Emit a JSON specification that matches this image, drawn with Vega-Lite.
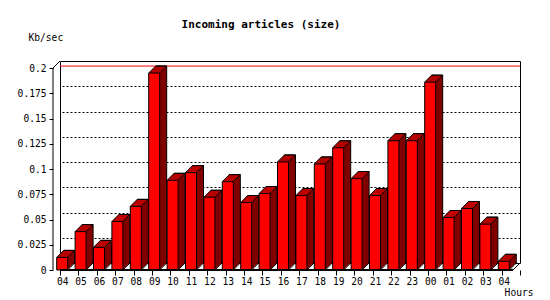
{
  "$schema": "https://vega.github.io/schema/vega-lite/v6.json",
  "width": 460,
  "height": 202,
  "autosize": {"type": "none"},
  "padding": {"left": 60, "top": 61, "right": 30, "bottom": 37},
  "background": "white",
  "title": {"text": "Incoming articles (size)", "font": "DejaVu Sans Mono", "fontSize": 11, "fontWeight": "bold", "color": "black", "anchor": "middle", "frame": "group", "dx": -29, "offset": 2},
  "config": {
    "view": {"stroke": "black", "strokeWidth": 1},
    "axis": {"labelFont": "DejaVu Sans Mono", "labelFontSize": 9.6, "labelColor": "black", "titleFont": "DejaVu Sans Mono", "titleFontSize": 9.6, "titleFontWeight": "normal", "titleColor": "black", "tickColor": "black"}
  },
  "data": {"values": [
    {"slot": "04a", "v": 0.0125},
    {"slot": "05", "v": 0.038},
    {"slot": "06", "v": 0.0224},
    {"slot": "07", "v": 0.048},
    {"slot": "08", "v": 0.063},
    {"slot": "09", "v": 0.195},
    {"slot": "10", "v": 0.0888},
    {"slot": "11", "v": 0.0964},
    {"slot": "12", "v": 0.072},
    {"slot": "13", "v": 0.0875},
    {"slot": "14", "v": 0.0668},
    {"slot": "15", "v": 0.0757},
    {"slot": "16", "v": 0.107},
    {"slot": "17", "v": 0.0737},
    {"slot": "18", "v": 0.105},
    {"slot": "19", "v": 0.121},
    {"slot": "20", "v": 0.0905},
    {"slot": "21", "v": 0.0737},
    {"slot": "22", "v": 0.128},
    {"slot": "23", "v": 0.128},
    {"slot": "00", "v": 0.186},
    {"slot": "01", "v": 0.052},
    {"slot": "02", "v": 0.0609},
    {"slot": "03", "v": 0.0454},
    {"slot": "04b", "v": 0.0086}
  ]},
  "resolve": {"axis": {"y": "independent"}},
  "layer": [
    {
      "mark": {"type": "rule", "color": "#ff0000", "strokeWidth": 1},
      "encoding": {
        "y": {"aggregate": "max", "field": "v", "type": "quantitative", "axis": null}
      }
    },
    {
      "mark": {"type": "bar", "color": "#909090", "width": 7, "xOffset": 2},
      "encoding": {
        "x": {"field": "slot", "type": "ordinal",
          "scale": {"domain": ["04a","05","06","07","08","09","10","11","12","13","14","15","16","17","18","19","20","21","22","23","00","01","02","03","04b"], "paddingInner": 0, "paddingOuter": 0},
          "axis": {"orient": "bottom", "offset": 7, "tickOffset": -7, "labelOffset": -7, "tickBand": "extent", "tickSize": 5, "domain": false, "grid": false, "labelExpr": "slice(datum.label, 0, 2)", "labelAngle": 0, "labelPadding": 1, "title": "Hours", "titleX": 473, "titleY": 25, "titleAlign": "right", "titleBaseline": "alphabetic"}},
        "y": {"datum": 0, "type": "quantitative", "scale": {"domain": [0, 0.2], "nice": false, "zero": true}, "axis": null},
        "y2": {"datum": 0}
      }
    },
    {
      "mark": {"type": "bar", "color": "#800000", "width": 11, "stroke": "black", "strokeWidth": 1, "xOffset": 0, "yOffset": 0, "y2Offset": 0},
      "encoding": {
        "x": {"field": "slot", "type": "ordinal"},
        "y": {"field": "v", "type": "quantitative", "axis": {"orient": "right", "values": [0.025, 0.05, 0.075, 0.1, 0.125, 0.15, 0.175], "grid": true, "gridDash": [2, 2], "gridColor": "black", "gridOpacity": 1, "domain": false, "ticks": false, "labels": false, "title": null}}
      }
    },
    {"mark": {"type": "bar", "color": "#800000", "width": 11, "xOffset": -1, "yOffset": 1, "y2Offset": 1}, "encoding": {"x": {"field": "slot", "type": "ordinal"}, "y": {"field": "v", "type": "quantitative", "axis": null}}},
    {"mark": {"type": "bar", "color": "#800000", "width": 11, "xOffset": -2, "yOffset": 2, "y2Offset": 2}, "encoding": {"x": {"field": "slot", "type": "ordinal"}, "y": {"field": "v", "type": "quantitative", "axis": null}}},
    {"mark": {"type": "bar", "color": "#800000", "width": 11, "xOffset": -3, "yOffset": 3, "y2Offset": 3}, "encoding": {"x": {"field": "slot", "type": "ordinal"}, "y": {"field": "v", "type": "quantitative", "axis": null}}},
    {"mark": {"type": "bar", "color": "#800000", "width": 11, "xOffset": -4, "yOffset": 4, "y2Offset": 4}, "encoding": {"x": {"field": "slot", "type": "ordinal"}, "y": {"field": "v", "type": "quantitative", "axis": null}}},
    {"mark": {"type": "bar", "color": "#800000", "width": 11, "xOffset": -5, "yOffset": 5, "y2Offset": 5}, "encoding": {"x": {"field": "slot", "type": "ordinal"}, "y": {"field": "v", "type": "quantitative", "axis": null}}},
    {"mark": {"type": "bar", "color": "#800000", "width": 11, "xOffset": -6, "yOffset": 6, "y2Offset": 6}, "encoding": {"x": {"field": "slot", "type": "ordinal"}, "y": {"field": "v", "type": "quantitative", "axis": null}}},
    {"mark": {"type": "tick", "color": "#c00000", "size": 11, "thickness": 1, "opacity": 1, "xOffset": -6, "yOffset": 6}, "encoding": {"x": {"field": "slot", "type": "ordinal"}, "y": {"field": "v", "type": "quantitative", "axis": null}}},
    {"mark": {"type": "tick", "color": "#c00000", "size": 11, "thickness": 1, "opacity": 1, "xOffset": -5, "yOffset": 5}, "encoding": {"x": {"field": "slot", "type": "ordinal"}, "y": {"field": "v", "type": "quantitative", "axis": null}}},
    {"mark": {"type": "tick", "color": "#c00000", "size": 11, "thickness": 1, "opacity": 1, "xOffset": -4, "yOffset": 4}, "encoding": {"x": {"field": "slot", "type": "ordinal"}, "y": {"field": "v", "type": "quantitative", "axis": null}}},
    {"mark": {"type": "tick", "color": "#c00000", "size": 11, "thickness": 1, "opacity": 1, "xOffset": -3, "yOffset": 3}, "encoding": {"x": {"field": "slot", "type": "ordinal"}, "y": {"field": "v", "type": "quantitative", "axis": null}}},
    {"mark": {"type": "tick", "color": "#c00000", "size": 11, "thickness": 1, "opacity": 1, "xOffset": -2, "yOffset": 2}, "encoding": {"x": {"field": "slot", "type": "ordinal"}, "y": {"field": "v", "type": "quantitative", "axis": null}}},
    {"mark": {"type": "tick", "color": "#c00000", "size": 11, "thickness": 1, "opacity": 1, "xOffset": -1, "yOffset": 1}, "encoding": {"x": {"field": "slot", "type": "ordinal"}, "y": {"field": "v", "type": "quantitative", "axis": null}}},
    {"mark": {"type": "tick", "color": "black", "size": 11, "thickness": 1, "opacity": 1, "xOffset": 0, "yOffset": 0}, "encoding": {"x": {"field": "slot", "type": "ordinal"}, "y": {"field": "v", "type": "quantitative", "axis": null}}},
    {"mark": {"type": "rule", "color": "black", "strokeWidth": 1, "xOffset": -12.5, "x2Offset": -5.5, "yOffset": 7, "y2Offset": 0},
     "encoding": {"x": {"field": "slot", "type": "ordinal"}, "x2": {"field": "slot"}, "y": {"field": "v", "type": "quantitative", "axis": null}, "y2": {"field": "v"}}},
    {"mark": {"type": "rule", "color": "black", "strokeWidth": 1, "xOffset": -1.5, "x2Offset": 5.5, "yOffset": 7, "y2Offset": 0},
     "encoding": {"x": {"field": "slot", "type": "ordinal"}, "x2": {"field": "slot"}, "y": {"field": "v", "type": "quantitative", "axis": null}, "y2": {"field": "v"}}},
    {"mark": {"type": "rule", "color": "black", "strokeWidth": 1, "xOffset": -1.5, "x2Offset": 5.5, "yOffset": 7, "y2Offset": 0},
     "encoding": {"x": {"field": "slot", "type": "ordinal"}, "x2": {"field": "slot"}, "y": {"datum": 0, "type": "quantitative", "axis": null}, "y2": {"datum": 0}}},
    {
      "mark": {"type": "bar", "color": "#ff0000", "width": 11, "stroke": "black", "strokeWidth": 1, "xOffset": -7, "yOffset": 7, "y2Offset": 7},
      "encoding": {
        "x": {"field": "slot", "type": "ordinal"},
        "y": {"field": "v", "type": "quantitative", "axis": {"orient": "left", "offset": 7, "tickOffset": 7, "values": [0, 0.025, 0.05, 0.075, 0.1, 0.125, 0.15, 0.175, 0.2], "labelExpr": "'' + datum.value", "domain": false, "grid": false, "tickSize": 4, "labelPadding": 3, "title": "Kb/sec", "titleAngle": 0, "titleAlign": "left", "titleBaseline": "alphabetic", "titleX": -25, "titleY": -21}}
      }
    },
    {
      "mark": {"type": "rule", "color": "black", "strokeWidth": 1, "xOffset": -7, "x2Offset": -7, "yOffset": 7},
      "encoding": {"y": {"datum": 0, "type": "quantitative", "axis": null}}
    },
    {
      "transform": [{"filter": "datum.slot == '04a'"}],
      "mark": {"type": "rule", "color": "black", "strokeWidth": 1, "xOffset": -16.2, "x2Offset": -16.2, "yOffset": 7, "y2Offset": 7},
      "encoding": {"x": {"field": "slot", "type": "ordinal"}, "y": {"datum": 0, "type": "quantitative", "axis": null}, "y2": {"datum": 0.2}}
    },
    {
      "transform": [{"filter": "datum.slot == '04a'"}],
      "mark": {"type": "rule", "color": "black", "strokeWidth": 1, "xOffset": -16.2, "x2Offset": -9.2, "yOffset": 7, "y2Offset": 0},
      "encoding": {"x": {"field": "slot", "type": "ordinal"}, "x2": {"field": "slot"}, "y": {"datum": 0.2, "type": "quantitative", "axis": null}, "y2": {"datum": 0.2}}
    },
    {
      "transform": [{"filter": "datum.slot == '04b'"}],
      "mark": {"type": "rule", "color": "black", "strokeWidth": 1, "xOffset": 2.2, "x2Offset": 9.2, "yOffset": 7, "y2Offset": 0},
      "encoding": {"x": {"field": "slot", "type": "ordinal"}, "x2": {"field": "slot"}, "y": {"datum": 0, "type": "quantitative", "axis": null}, "y2": {"datum": 0}}
    }
  ]
}
